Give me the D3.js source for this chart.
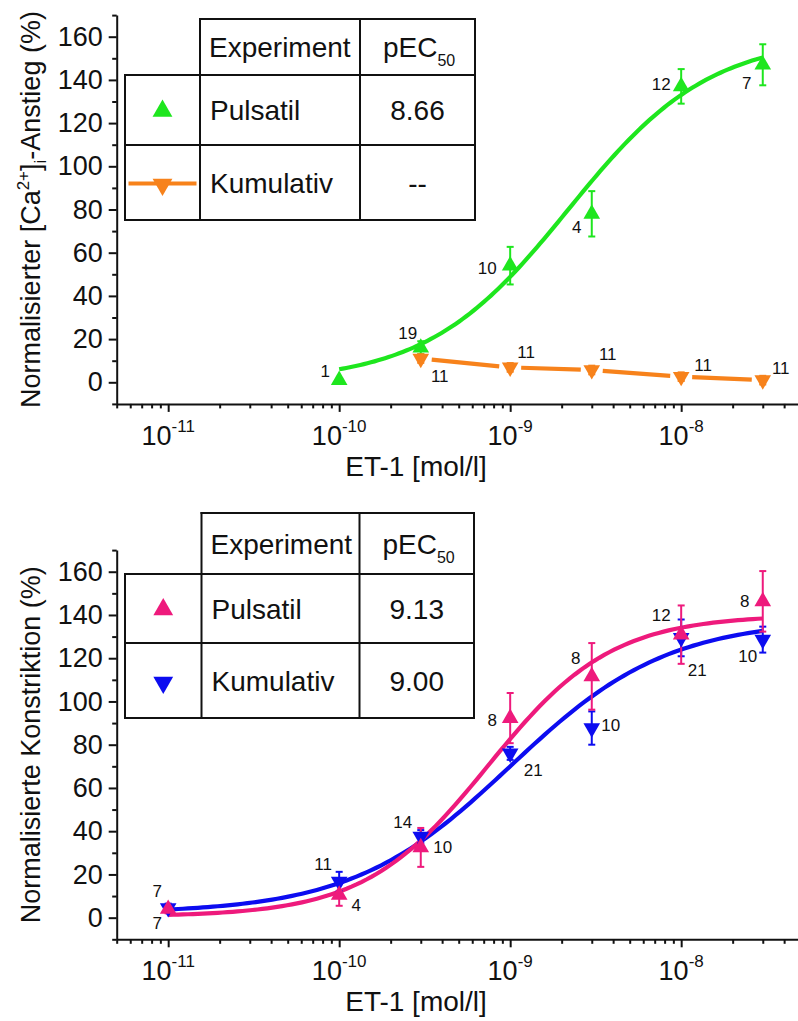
<!DOCTYPE html>
<html>
<head>
<meta charset="utf-8">
<script src="https://cdn.jsdelivr.net/npm/d3@7"></script>
<style>
  body { margin: 0; background: #fff; }
  svg { display: block; }
  text { font-family: "Liberation Sans", Arial, Helvetica, sans-serif; fill: #111; }
</style>
</head>
<body>
<svg id="fig" width="798" height="1021"></svg>
<script>
// ---------- Panel A: [Ca2+]i rise ----------
const concA = [1e-10, 3e-10, 1e-9, 3e-9, 1e-8, 3e-8];
const caPulsatil = [1, 16, 54, 78, 137, 147];
const caPulsatilErr = [0, 3, 8.7, 10.5, 8, 9.5];
const caPulsatilN = [1, 19, 10, 4, 12, 7];

const concKum = [3e-10, 1e-9, 3e-9, 1e-8, 3e-8];
const caKumulativ = [11, 6.9, 5.7, 2.6, 1];
const caKumulativErr = [2, 2, 2, 2, 2];
const caKumulativN = [11, 11, 11, 11, 11];

const caExperiments = ["Pulsatil", "Kumulativ"];
const caPEC50 = ["8.66", "--"];
// sigmoidal fit of the pulsatile series: [bottom, top, Hill slope]
const caFitPulsatil = [0, 160, 1.05];

// ---------- Panel B: constriction ----------
const concB = [1e-11, 1e-10, 3e-10, 1e-9, 3e-9, 1e-8, 3e-8];
const konPulsatil = [4, 10.5, 32.5, 92.3, 111.6, 130.9, 146.3];
const konPulsatilErr = [2, 5, 9, 11.6, 15.4, 13.5, 14];
const konPulsatilN = [7, 4, 10, 8, 8, 12, 8];

const konKumulativ = [4.5, 16.7, 37.5, 76, 87.7, 129.4, 128.6];
const konKumulativErr = [2, 4.5, 3, 3, 7.7, 8.5, 6];
const konKumulativN = [7, 11, 14, 21, 10, 21, 10];

const konExperiments = ["Pulsatil", "Kumulativ"];
const konPEC50 = ["9.13", "9.00"];
const konFitPulsatil = [0.5, 140, 1.2];
const konFitKumulativ = [2, 138, 0.94];

// axis ticks
const xMajorTicks = [1e-11, 1e-10, 1e-9, 1e-8];
const xTickExponents = ["-11", "-10", "-9", "-8"];
const yMajorTicks = [0, 20, 40, 60, 80, 100, 120, 140, 160];

// ---------- styling / layout ----------
const COL = { green: "#1ee61e", orange: "#f7821b", pink: "#ee1a7c", blue: "#0c0cf0" };
// pixel offsets of the n-labels relative to their marker
const offCaPuls = [[-14, -9], [-13, -15], [-23, 2], [-15, 13], [-20, -2], [-16, 18]];
const offCaKum = [[19, 17], [16, -15], [16, -16], [22, -12], [18, -12]];
const offKonPuls = [[-11, 14], [17, 10], [22, 0], [-18, 2], [-16, -18], [-20, -20], [-18, 0]];
const offKonKum = [[-11, -17], [-16, -18], [-18, -15], [23, 17], [19, -3], [16, 32], [-15, 16]];

const svg = d3.select("#fig");
const xDomain = [5e-12, 5e-8];
const yDomain = [-10, 170];
const X0 = 116.7, X1 = 800.7;

function hill(logc, pec50, p) {
  const [bottom, top, h] = p;
  return bottom + (top - bottom) / (1 + Math.pow(10, (-pec50 - logc) * h));
}

function makePanel(yBottom, yTop) {
  const g = svg.append("g");
  const x = d3.scaleLog().domain(xDomain).range([X0, X1]);
  const y = d3.scaleLinear().domain(yDomain).range([yBottom, yTop]);

  // x axis with decade and sub-decade ticks
  const minor = [];
  for (let e = -12; e <= -8; e++) for (let m = 1; m <= 9; m++) {
    const v = m * Math.pow(10, e);
    if (v >= xDomain[0] * 0.999 && v <= xDomain[1] * 1.001) minor.push(v);
  }
  const isMajor = v => xMajorTicks.some(t => Math.abs(t - v) / t < 1e-6);
  const xa = g.append("g").attr("transform", `translate(0,${yBottom})`)
    .call(d3.axisBottom(x).tickValues(minor).tickSize(8).tickSizeOuter(0).tickFormat(() => ""));
  xa.selectAll(".tick line").attr("y2", d => isMajor(d) ? 8 : 4.5);
  xa.selectAll("line, path").attr("stroke", "#111").attr("stroke-width", 2);
  xMajorTicks.forEach((t, i) => {
    const tx = g.append("text").attr("x", x(t)).attr("y", yBottom + 41)
      .attr("text-anchor", "middle").style("font-size", "27px");
    tx.append("tspan").text("10");
    tx.append("tspan").attr("dy", -13).style("font-size", "17px").text(xTickExponents[i]);
  });

  // y axis
  const yAll = d3.range(-10, 171, 10);
  const ya = g.append("g").attr("transform", `translate(${X0},0)`)
    .call(d3.axisLeft(y).tickValues(yAll).tickSize(8).tickSizeOuter(0).tickPadding(6)
      .tickFormat(d => yMajorTicks.includes(d) ? d : ""));
  ya.selectAll(".tick line").attr("x2", d => yMajorTicks.includes(d) ? -8 : -4.5);
  ya.selectAll("line, path").attr("stroke", "#111").attr("stroke-width", 2);
  ya.selectAll("text").style("font-size", "27px").attr("fill", "#111")
    .style("font-family", '"Liberation Sans", Arial, sans-serif');

  g.append("text").attr("x", 416).attr("y", yBottom + 72).attr("text-anchor", "middle")
    .style("font-size", "28px").text("ET-1 [mol/l]");
  return { g, x, y };
}

function fitCurve(p, xs, pec50, par, color) {
  const lo = Math.log10(xs[0]), hi = Math.log10(xs[xs.length - 1]);
  const pts = d3.range(0, 121).map(i => lo + (hi - lo) * i / 120);
  p.g.append("path")
    .attr("d", d3.line().x(l => p.x(Math.pow(10, l))).y(l => p.y(hill(l, pec50, par)))(pts))
    .attr("fill", "none").attr("stroke", color).attr("stroke-width", 4.2);
}

function errorBars(p, xs, ys, es, color) {
  xs.forEach((c, i) => {
    if (!es[i]) return;
    const cx = p.x(c), y1 = p.y(ys[i] + es[i]), y2 = p.y(ys[i] - es[i]);
    p.g.append("line").attr("x1", cx).attr("x2", cx).attr("y1", y1).attr("y2", y2)
      .attr("stroke", color).attr("stroke-width", 2);
    [y1, y2].forEach(yy => p.g.append("line").attr("x1", cx - 3.5).attr("x2", cx + 3.5)
      .attr("y1", yy).attr("y2", yy).attr("stroke", color).attr("stroke-width", 2));
  });
}

const tri = d3.symbol().type(d3.symbolTriangle);
function markers(p, xs, ys, color, down, size) {
  xs.forEach((c, i) => {
    p.g.append("path").attr("d", tri.size(size || 120)())
      .attr("transform", `translate(${p.x(c)},${p.y(ys[i])})${down ? " rotate(180)" : ""}`)
      .attr("fill", color);
  });
}

function nLabels(p, xs, ys, ns, offs) {
  xs.forEach((c, i) => {
    p.g.append("text").attr("x", p.x(c) + offs[i][0]).attr("y", p.y(ys[i]) + offs[i][1] + 6)
      .attr("text-anchor", "middle").style("font-size", "17px").text(ns[i]);
  });
}

function yTitle(g, cy, build) {
  const t = g.append("text").attr("transform", `translate(40,${cy}) rotate(-90)`)
    .attr("text-anchor", "middle").style("font-size", "27px");
  build(t);
}

function table(g, cols, rows, names, values, legendDraw) {
  const [c0, c1, c2, c3] = cols, [r0, r1, r2, r3] = rows;
  g.append("rect").attr("x", c1).attr("y", r0).attr("width", c3 - c1).attr("height", r1 - r0).attr("fill", "#fff");
  g.append("rect").attr("x", c0).attr("y", r1).attr("width", c3 - c0).attr("height", r3 - r1).attr("fill", "#fff");
  const L = (x1, y1, x2, y2) => g.append("line").attr("x1", x1).attr("y1", y1).attr("x2", x2).attr("y2", y2)
    .attr("stroke", "#111").attr("stroke-width", 2).attr("stroke-linecap", "square");
  L(c1, r0, c3, r0); L(c0, r1, c3, r1); L(c0, r2, c3, r2); L(c0, r3, c3, r3);
  L(c0, r1, c0, r3); L(c1, r0, c1, r3); L(c2, r0, c2, r3); L(c3, r0, c3, r3);
  const mid = (a, b) => (a + b) / 2 + 10;
  g.append("text").attr("x", c1 + 9).attr("y", mid(r0, r1)).style("font-size", "28px").text("Experiment");
  const pe = g.append("text").attr("x", c2 + 23).attr("y", mid(r0, r1)).style("font-size", "28px");
  pe.append("tspan").text("pEC");
  pe.append("tspan").attr("dy", 9).style("font-size", "16px").text("50");
  [[r1, r2], [r2, r3]].forEach(([a, b], i) => {
    g.append("text").attr("x", c1 + 10).attr("y", mid(a, b)).style("font-size", "28px").text(names[i]);
    g.append("text").attr("x", (c2 + c3) / 2).attr("y", mid(a, b)).attr("text-anchor", "middle")
      .style("font-size", "28px").text(values[i]);
  });
  legendDraw((c0 + c1) / 2, [(r1 + r2) / 2 + 1, (r2 + r3) / 2 + 1]);
}

// ================= Panel A =================
const A = makePanel(403.9, 15.1);
yTitle(A.g, (403.9 + 15.1) / 2, t => {
  t.append("tspan").text("Normalisierter [Ca");
  t.append("tspan").attr("dy", -11).style("font-size", "17px").text("2+");
  t.append("tspan").attr("dy", 11).text("]");
  t.append("tspan").attr("dy", 6).style("font-size", "17px").text("i");
  t.append("tspan").attr("dy", -6).text("-Anstieg (%)");
});
fitCurve(A, concA, +caPEC50[0], caFitPulsatil, COL.green);
// cumulative series: straight segments that stop short of the markers
(function () {
  const pts = concKum.map((c, i) => [A.x(c), A.y(caKumulativ[i])]);
  for (let i = 0; i < pts.length - 1; i++) {
    const [xa, ya] = pts[i], [xb, yb] = pts[i + 1];
    const len = Math.hypot(xb - xa, yb - ya), gap = 11;
    const ux = (xb - xa) / len, uy = (yb - ya) / len;
    A.g.append("line").attr("x1", xa + ux * gap).attr("y1", ya + uy * gap)
      .attr("x2", xb - ux * gap).attr("y2", yb - uy * gap)
      .attr("stroke", COL.orange).attr("stroke-width", 4.2);
  }
})();
errorBars(A, concA, caPulsatil, caPulsatilErr, COL.green);
errorBars(A, concKum, caKumulativ, caKumulativErr, COL.orange);
markers(A, concA, caPulsatil, COL.green, false);
markers(A, concKum, caKumulativ, COL.orange, true);
nLabels(A, concA, caPulsatil, caPulsatilN, offCaPuls);
nLabels(A, concKum, caKumulativ, caKumulativN, offCaKum);
table(A.g, [125, 200, 360, 475], [19, 75, 145, 220], caExperiments, caPEC50, (cx, ys) => {
  A.g.append("path").attr("d", tri.size(170)()).attr("transform", `translate(${cx},${ys[0]})`).attr("fill", COL.green);
  A.g.append("line").attr("x1", cx - 34).attr("x2", cx + 34).attr("y1", ys[1]).attr("y2", ys[1])
    .attr("stroke", COL.orange).attr("stroke-width", 4.2);
  A.g.append("path").attr("d", tri.size(170)()).attr("transform", `translate(${cx},${ys[1] + 1}) rotate(180)`).attr("fill", COL.orange);
});

// ================= Panel B =================
const B = makePanel(939.3, 550.1);
yTitle(B.g, (939.3 + 550.1) / 2, t => t.text("Normalisierte Konstriktion (%)"));
fitCurve(B, concB, +konPEC50[1], konFitKumulativ, COL.blue);
fitCurve(B, concB, +konPEC50[0], konFitPulsatil, COL.pink);
errorBars(B, concB, konKumulativ, konKumulativErr, COL.blue);
errorBars(B, concB, konPulsatil, konPulsatilErr, COL.pink);
markers(B, concB, konKumulativ, COL.blue, true);
markers(B, concB, konPulsatil, COL.pink, false);
nLabels(B, concB, konPulsatil, konPulsatilN, offKonPuls);
nLabels(B, concB, konKumulativ, konKumulativN, offKonKum);
table(B.g, [125, 201.5, 359.5, 474], [513, 574, 643, 718], konExperiments, konPEC50, (cx, ys) => {
  B.g.append("path").attr("d", tri.size(170)()).attr("transform", `translate(${cx},${ys[0]})`).attr("fill", COL.pink);
  B.g.append("path").attr("d", tri.size(170)()).attr("transform", `translate(${cx},${ys[1] + 1}) rotate(180)`).attr("fill", COL.blue);
});
</script>
</body>
</html>
